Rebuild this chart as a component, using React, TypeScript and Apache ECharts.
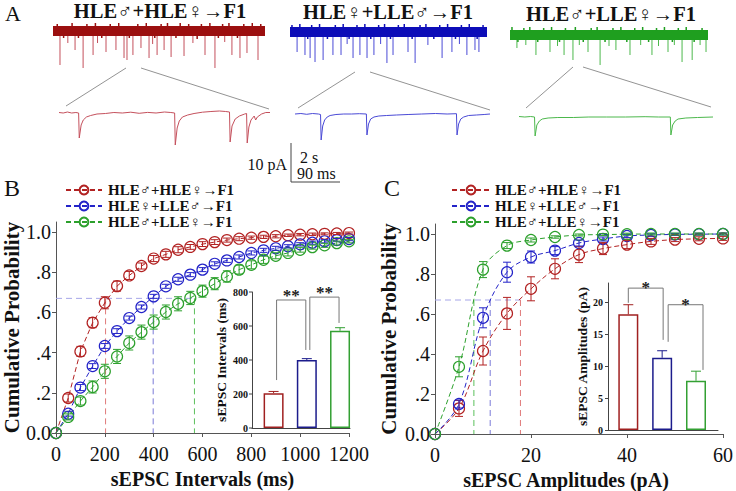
import React, { useEffect, useRef } from 'react';
import * as echarts from 'echarts';

const SERIF = 'Liberation Serif';

// ---------- data ----------
const GROUPS = ['HLE♂+HLE♀→F1', 'HLE♀+LLE♂→F1', 'HLE♂+LLE♀→F1'];
const COLORS = ['#b22222', '#2323c8', '#2ca02c'];
const BAR_BORDER = ['#a02020', '#1c1c8c', '#33a033'];
const REF_COLORS = ['#e07a7a', '#7a7ad8', '#5cc05c'];
const TRACE_BAND = ['#9b0f0f', '#0d0db8', '#1f9f1f'];
const TRACE_SPIKE = ['#c4505c', '#4a4ad6', '#4cb84c'];

const INTERVAL_X = [0, 50, 100, 150, 200, 250, 300, 350, 400, 450, 500, 550, 600, 650, 700, 750, 800, 850, 900, 950, 1000, 1050, 1100, 1150, 1200];
const INTERVAL_CP = [
  [0, 0.174, 0.406, 0.549, 0.648, 0.731, 0.784, 0.831, 0.868, 0.889, 0.912, 0.926, 0.94, 0.95, 0.96, 0.967, 0.972, 0.976, 0.979, 0.984, 0.987, 0.989, 0.991, 0.993, 0.995],
  [0, 0.096, 0.226, 0.333, 0.433, 0.507, 0.572, 0.627, 0.68, 0.73, 0.765, 0.788, 0.813, 0.842, 0.859, 0.876, 0.896, 0.909, 0.919, 0.929, 0.939, 0.947, 0.954, 0.96, 0.965],
  [0, 0.08, 0.159, 0.229, 0.307, 0.381, 0.448, 0.502, 0.552, 0.602, 0.643, 0.672, 0.706, 0.743, 0.779, 0.813, 0.837, 0.862, 0.882, 0.896, 0.912, 0.925, 0.934, 0.945, 0.954],
];
const INTERVAL_SEM = [
  [0, 0.02, 0.025, 0.025, 0.03, 0.025, 0.02, 0.015, 0.015, 0.015, 0.015, 0.012, 0.012, 0.012, 0.01, 0.01, 0.008, 0.008, 0.008, 0.006, 0.006, 0.006, 0.005, 0.005, 0.005],
  [0, 0.012, 0.015, 0.012, 0.012, 0.012, 0.01, 0.01, 0.01, 0.01, 0.01, 0.01, 0.01, 0.01, 0.01, 0.01, 0.01, 0.01, 0.01, 0.008, 0.008, 0.008, 0.008, 0.008, 0.008],
  [0, 0.015, 0.02, 0.03, 0.035, 0.035, 0.035, 0.035, 0.035, 0.035, 0.035, 0.033, 0.03, 0.03, 0.028, 0.022, 0.02, 0.018, 0.015, 0.015, 0.012, 0.01, 0.01, 0.01, 0.008],
];
const AMP_X = [0, 5, 10, 15, 20, 25, 30, 35, 40, 45, 50, 55, 60];
const AMP_CP = [
  [0, 0.128, 0.415, 0.603, 0.726, 0.826, 0.897, 0.927, 0.947, 0.963, 0.972, 0.976, 0.978],
  [0, 0.15, 0.581, 0.809, 0.885, 0.917, 0.955, 0.975, 0.99, 0.995, 0.998, 0.999, 1.0],
  [0, 0.336, 0.822, 0.942, 0.97, 0.985, 0.995, 0.997, 0.999, 1.0, 1.0, 1.0, 1.0],
];
const AMP_SEM = [
  [0, 0.04, 0.07, 0.08, 0.06, 0.05, 0.04, 0.03, 0.02, 0.015, 0.01, 0.01, 0.01],
  [0, 0.02, 0.05, 0.05, 0.03, 0.02, 0.015, 0.01, 0.008, 0.006, 0.005, 0.005, 0.005],
  [0, 0.05, 0.04, 0.015, 0.01, 0.006, 0.005, 0.005, 0.005, 0.005, 0.005, 0.005, 0.005],
];
const CP_LEVEL = 0.67;
const INTERVAL_AT_LEVEL = [203, 398, 567];
const AMP_AT_LEVEL = [17.8, 11.5, 8.1];

const INTERVAL_MEAN = [205, 400, 572];
const INTERVAL_ERR = [10, 8, 18];
const AMP_MEAN = [18.1, 11.3, 7.7];
const AMP_ERR = [1.5, 1.1, 1.5];
const INTERVAL_TICKS = [0, 200, 400, 600, 800];
const AMP_TICKS = [0, 5, 10, 15, 20];
const PROB_TICKS = [0, 0.2, 0.4, 0.6, 0.8, 1.0];

// brackets: [fromBar, toBar, yStart, yTop, yEnd]
const BRACKETS_B = [[0, 1, 282, 753, 459], [1, 2, 459, 770, 618]];
const SIG_B = ['**', '**'];
const BRACKETS_C = [[0, 1, 19.9, 22.2, 14.1], [1, 2, 13.8, 19.6, 9.4]];
const SIG_C = ['*', '*'];

// Panel A traces (time in arbitrary units 0-100, amplitude units, negative = inward)
const TOP_SPIKES = [
  [[3.3, 34], [10.4, 19], [14.2, 37], [18.9, 24], [25, 21], [29.7, 19], [33.5, 27], [34.9, 29], [37.7, 24], [41.5, 17], [45.3, 27], [49.1, 24], [52.4, 19], [55.7, 26], [61.8, 25], [71.7, 24], [76.4, 37], [84.4, 24], [88.2, 27], [91.5, 22], [96.7, 29], [7, 12], [21, 12], [47, 13], [66, 12], [81, 11]],
  [[3.6, 20], [7.6, 23], [10.2, 26], [12.7, 30], [16.8, 28], [21.8, 23], [25.9, 23], [32, 26], [35.5, 23], [39.1, 26], [42.6, 23], [49.2, 31], [52.3, 23], [59.9, 20], [63.5, 31], [77.2, 26], [82.2, 20], [89.8, 23], [93.9, 18], [95.9, 20], [29, 12], [46, 12], [70, 13], [86, 12]],
  [[3.5, 13], [13.1, 20], [20.2, 17], [27.3, 20], [31.8, 25], [39.4, 17], [45.5, 30], [53.5, 15], [60.6, 20], [71.7, 20], [79.8, 17], [86.9, 27], [92, 25], [99, 17], [8, 10], [24, 11], [35, 10], [50, 11], [66, 10], [75, 11], [83, 10], [96, 10]],
];
// small noise excursions on the edges of the top traces (position, amplitude; positive = up)
const TOP_NOISE = [
  [[2, 3], [5, -3], [9, 4], [12, -3], [16, 3], [20, 4], [23, -3], [27, 3], [31, 4], [36, -3], [40, 3], [44, 4], [48, -3], [51, 3], [54, 4], [58, -3], [60, 4], [64, 3], [68, -4], [70, 3], [74, 4], [78, -3], [80, 3], [83, 4], [87, -3], [90, 3], [94, 4], [98, 3]],
  [[1, 3], [5, 4], [9, -3], [11, 3], [15, 4], [19, -3], [23, 3], [27, 4], [30, -3], [34, 3], [38, 4], [41, -3], [45, 3], [48, 4], [51, -3], [55, 3], [58, 4], [62, -3], [66, 3], [69, 4], [73, -3], [76, 3], [80, 4], [84, -3], [87, 3], [91, 4], [95, -3], [98, 3]],
  [[1, 4], [4, -3], [7, 3], [10, 4], [14, -3], [17, 3], [21, 4], [25, -3], [28, 3], [33, 4], [37, -3], [41, 3], [44, 4], [48, -3], [52, 3], [56, 4], [59, -3], [63, 3], [67, 4], [70, -3], [74, 3], [78, 4], [82, -3], [85, 3], [89, 4], [93, -3], [97, 3]],
];
const BOTTOM_TRACES = [
  [[0, 0.5], [2, 0], [4, 1], [6, 0], [8, 0.5], [9.3, 0], [9.6, -25], [10.5, -12], [11.5, -7], [13, -4], [15, -2.5], [18, -1], [22, -0.5], [26, 0.5], [30, 0], [34, 0.8], [38, -0.3], [42, 0.6], [46, 0], [50, 1], [53, 0.5], [54.8, 0], [55.1, -32], [56, -15], [57, -8], [58.5, -4], [61, -2], [64, -0.5], [68, 0.8], [72, 1.5], [76, 2], [79, 1.5], [80.8, 1], [81.1, -29], [82, -13], [83.5, -6], [85.5, -3], [88, -1], [88.9, -0.5], [89.2, -30], [90, -14], [91, -7], [92.5, -3], [93.2, -7], [94, -4], [96, -1], [98, 0.5], [100, 0.5]],
  [[0, 0], [3, 0.5], [6, -0.3], [9, 0.5], [12, 0], [13.1, -0.5], [13.4, -26], [14.2, -12], [15.2, -6], [16.5, -3], [18, -1.5], [21, -0.5], [25, 0], [29, 0], [33, 0.3], [36.6, 0], [36.9, -21], [37.7, -10], [38.8, -5], [40.5, -3], [43, -2], [47, -1.5], [52, -1], [58, -0.5], [65, 0], [72, 0.5], [78, 0], [82.8, 0.3], [83.1, -21], [83.9, -10], [85, -5], [86.5, -3], [89, -1.5], [93, -1], [97, -0.5], [100, 0]],
  [[0, 0.5], [3, 0], [6, 0.5], [8, 0], [8.3, -19], [9.2, -8], [10.5, -4], [12, -2], [15, -1], [20, -0.5], [28, -0.5], [36, 0], [45, 0], [55, 0], [65, 0.3], [72, 0], [78, 0], [78.3, -18], [79.2, -8], [80.5, -4], [82, -2], [86, -1], [92, -0.5], [100, 0]],
];

// ---------- layout ----------
const TOP_GRIDS = [
  { left: 53, top: 21, width: 212, height: 50 },
  { left: 290, top: 22, width: 197, height: 50 },
  { left: 510, top: 25, width: 198, height: 50 },
];
const BOTTOM_GRIDS = [
  { left: 59, top: 108, width: 211, height: 40 },
  { left: 295, top: 109, width: 195, height: 40 },
  { left: 519, top: 112, width: 194, height: 40 },
];
const B_INSET = { left: 252, top: 292, width: 98, height: 136 };
const B_INSET_YMAX = 800;

function probLabel(v: number) {
  if (v === 0) return '0.0';
  if (Math.abs(v - 1) < 1e-9) return '1.0';
  return '.' + Math.round(v * 10);
}

function errSeries(xi: number, yi: number, data: number[][], color: string, cap: number, upOnly: boolean) {
  return {
    type: 'custom', xAxisIndex: xi, yAxisIndex: yi, silent: true, z: 4, clip: false,
    data,
    renderItem: (params: any, api: any) => {
      const x = api.value(0), y = api.value(1), e = api.value(2);
      if (!e) return null;
      const top = api.coord([x, y + e]);
      const bot = upOnly ? api.coord([x, y]) : api.coord([x, y - e]);
      const style = { stroke: color, lineWidth: 1 };
      const ch: any[] = [
        { type: 'line', shape: { x1: top[0], y1: top[1], x2: bot[0], y2: bot[1] }, style },
        { type: 'line', shape: { x1: top[0] - cap / 2, y1: top[1], x2: top[0] + cap / 2, y2: top[1] }, style },
      ];
      if (!upOnly) ch.push({ type: 'line', shape: { x1: bot[0] - cap / 2, y1: bot[1], x2: bot[0] + cap / 2, y2: bot[1] }, style });
      return { type: 'group', children: ch };
    },
  };
}

function bracketSeries(xi: number, yi: number, rows: number[][], labels: string[], dx: number[][], fontSize: number, lift: number) {
  return {
    type: 'custom', xAxisIndex: xi, yAxisIndex: yi, silent: true, z: 5, clip: false,
    data: rows,
    renderItem: (params: any, api: any) => {
      const [a, b] = dx[params.dataIndex];
      const p1 = api.coord([api.value(0), api.value(2)]);
      const p2 = api.coord([api.value(0), api.value(3)]);
      const p3 = api.coord([api.value(1), api.value(3)]);
      const p4 = api.coord([api.value(1), api.value(4)]);
      return {
        type: 'group',
        children: [
          { type: 'polyline', shape: { points: [[p1[0] + a, p1[1]], [p2[0] + a, p2[1]], [p3[0] + b, p3[1]], [p4[0] + b, p4[1]]] }, style: { stroke: '#777', fill: 'none', lineWidth: 1 } },
          { type: 'text', x: (p2[0] + a + p3[0] + b) / 2, y: p2[1] + lift, style: { text: labels[params.dataIndex], textAlign: 'center', textVerticalAlign: 'bottom', fontFamily: SERIF, fontWeight: 'bold', fontSize, fill: '#222' } },
        ],
      };
    },
  };
}

const txt = (text: string, x: number, y: number, size: number, bold: boolean, align = 'left', vAlign = 'top') => ({
  type: 'text', x, y, z: 100, style: { text, fontFamily: SERIF, fontWeight: bold ? 'bold' : 'normal', fontSize: size, fill: '#111', textAlign: align, textVerticalAlign: vAlign },
});
const ln = (x1: number, y1: number, x2: number, y2: number, color = '#777', w = 0.8) => ({
  type: 'line', z: 100, shape: { x1, y1, x2, y2 }, style: { stroke: color, lineWidth: w },
});

function buildGraphic(): any[] {
  const g: any[] = [
    txt('A', 5, 2, 22, false),
    txt('B', 4, 176, 24, false),
    txt('C', 384, 176, 24, false),
    txt(GROUPS[0], 160, 11, 20.5, true, 'center', 'middle'),
    txt(GROUPS[1], 388, 12, 20.5, true, 'center', 'middle'),
    txt(GROUPS[2], 611, 14, 20.5, true, 'center', 'middle'),
    ln(126, 68, 66, 106), ln(141, 68, 269, 109),
    ln(355, 72, 298, 108), ln(370, 72, 490, 110),
    ln(573, 67, 526, 108), ln(583, 67, 711, 107),
    ln(291, 143, 291, 182, '#444', 1), ln(291, 182, 340, 182, '#444', 1),
    txt('10 pA', 287, 164, 16, false, 'right', 'middle'),
    txt('2 s', 309, 157, 16, false, 'center', 'middle'),
    txt('90 ms', 297, 173, 16, false, 'left', 'middle'),
  ];
  // B inset y tick labels (linear scale of the inset grid: 0 at bottom, max at top)
  INTERVAL_TICKS.forEach((t) => {
    const y = B_INSET.top + B_INSET.height * (1 - t / B_INSET_YMAX);
    g.push(ln(B_INSET.left - 3, y, B_INSET.left, y, '#444', 1));
    g.push(txt(String(t), B_INSET.left - 4, y, 10, true, 'right', 'middle'));
  });
  return g;
}

function buildOption() {
  const grid: any[] = [
    { left: 56, top: 222, width: 293, height: 211 },   // 0 B main
    { ...B_INSET },                                    // 1 B inset
    { left: 435, top: 224, width: 292, height: 211 },  // 2 C main
    { left: 608, top: 283, width: 110, height: 147 },  // 3 C inset
    ...TOP_GRIDS,                                      // 4,5,6
    ...BOTTOM_GRIDS,                                   // 7,8,9
  ];
  const axisLineMain = { show: true, onZero: false, lineStyle: { color: '#555', width: 1 } };
  const insetLine = { show: true, onZero: false, lineStyle: { color: '#444', width: 1 } };
  const mainLabel = { fontFamily: SERIF, fontSize: 20, color: '#111' };
  const nameStyle = { fontFamily: SERIF, fontWeight: 'bold', fontSize: 21, color: '#111' };
  const insetLabel = { fontFamily: SERIF, fontSize: 10, fontWeight: 'bold', color: '#111', margin: 4 };
  const insetName = { fontFamily: SERIF, fontWeight: 'bold', fontSize: 13.5, color: '#111' };
  const hidden = { show: false };

  const xAxis: any[] = [
    { type: 'value', gridIndex: 0, min: 0, max: 1200, interval: 200, axisLine: axisLineMain, axisTick: { show: true, length: 4, lineStyle: { color: '#555' } }, axisLabel: { ...mainLabel, margin: 11, formatter: (v: number) => String(v) }, splitLine: hidden,
      name: 'sEPSC Intervals (ms)', nameLocation: 'middle', nameGap: 36, nameTextStyle: { ...nameStyle, fontSize: 20 } },
    { type: 'value', gridIndex: 1, min: -0.65, max: 2.3, axisLine: insetLine, axisTick: hidden, axisLabel: hidden, splitLine: hidden },
    { type: 'value', gridIndex: 2, min: 0, max: 60, interval: 20, axisLine: axisLineMain, axisTick: { show: true, length: 4, lineStyle: { color: '#555' } }, axisLabel: { ...mainLabel, margin: 11, formatter: (v: number) => String(v) }, splitLine: hidden,
      name: 'sEPSC Amplitudes (pA)', nameLocation: 'middle', nameGap: 36, nameTextStyle: { ...nameStyle, fontSize: 20, padding: [0, 26, 0, 0] } },
    { type: 'value', gridIndex: 3, min: -0.6, max: 2.65, axisLine: insetLine, axisTick: hidden, axisLabel: hidden, splitLine: hidden },
  ];
  const yAxis: any[] = [
    { type: 'value', gridIndex: 0, min: 0, max: 1.05, interval: 0.2, axisLine: axisLineMain,
      axisTick: { show: true, length: 4, lineStyle: { color: '#555' }, customValues: PROB_TICKS },
      axisLabel: { ...mainLabel, margin: 5, formatter: probLabel, customValues: PROB_TICKS }, splitLine: hidden,
      name: 'Cumulative Probability', nameLocation: 'middle', nameGap: 30, nameTextStyle: nameStyle },
    { type: 'value', gridIndex: 1, min: 0, max: B_INSET_YMAX, interval: 200, axisLine: insetLine,
      axisTick: hidden, axisLabel: hidden, splitLine: hidden,
      name: 'sEPSC Intervals (ms)', nameLocation: 'middle', nameGap: 24, nameTextStyle: insetName },
    { type: 'value', gridIndex: 2, min: 0, max: 1.05, interval: 0.2, axisLine: axisLineMain,
      axisTick: { show: true, length: 4, lineStyle: { color: '#555' }, customValues: PROB_TICKS },
      axisLabel: { ...mainLabel, margin: 5, formatter: probLabel, customValues: PROB_TICKS }, splitLine: hidden,
      name: 'Cumulative Probability', nameLocation: 'middle', nameGap: 36, nameTextStyle: nameStyle },
    { type: 'value', gridIndex: 3, min: 0, max: 23, interval: 5, axisLine: insetLine,
      axisTick: { show: true, length: 3, customValues: AMP_TICKS },
      axisLabel: { ...insetLabel, margin: 5, customValues: AMP_TICKS }, splitLine: hidden,
      name: 'sEPSC Amplitudes (pA)', nameLocation: 'middle', nameGap: 19, nameTextStyle: insetName },
  ];
  for (let k = 0; k < 3; k++) {
    xAxis.push({ type: 'value', gridIndex: 4 + k, min: 0, max: 100, show: false });
    yAxis.push({ type: 'value', gridIndex: 4 + k, min: -40, max: 10, show: false });
  }
  for (let k = 0; k < 3; k++) {
    xAxis.push({ type: 'value', gridIndex: 7 + k, min: 0, max: 100, show: false });
    yAxis.push({ type: 'value', gridIndex: 7 + k, min: -35, max: 5, show: false });
  }

  const series: any[] = [];
  const dash = [5, 3];
  GROUPS.forEach((g, i) => {
    series.push({
      name: g, type: 'line', xAxisIndex: 0, yAxisIndex: 0, z: 3,
      data: INTERVAL_X.map((x, j) => [x, INTERVAL_CP[i][j]]),
      symbol: 'circle', symbolSize: 11,
      itemStyle: { color: 'rgba(255,255,255,0)', borderColor: COLORS[i], borderWidth: 1.2 },
      lineStyle: { color: COLORS[i], width: 1, type: dash },
    });
    series.push(errSeries(0, 0, INTERVAL_X.map((x, j) => [x, INTERVAL_CP[i][j], INTERVAL_SEM[i][j]]), COLORS[i], 8, false));
  });
  GROUPS.forEach((g, i) => {
    series.push({
      name: g, type: 'line', xAxisIndex: 2, yAxisIndex: 2, z: 3, smooth: 0.35,
      data: AMP_X.map((x, j) => [x, AMP_CP[i][j]]),
      symbol: 'circle', symbolSize: 11,
      itemStyle: { color: 'rgba(255,255,255,0)', borderColor: COLORS[i], borderWidth: 1.2 },
      lineStyle: { color: COLORS[i], width: 1, type: dash },
    });
    series.push(errSeries(2, 2, AMP_X.map((x, j) => [x, AMP_CP[i][j], AMP_SEM[i][j]]), COLORS[i], 8, false));
  });
  const refLine = (xi: number, pts: number[][], color: string) => ({
    type: 'line', xAxisIndex: xi, yAxisIndex: xi, data: pts, symbol: 'none', silent: true, z: 1,
    lineStyle: { color, width: 1, type: [6, 4] },
  });
  series.push(refLine(0, [[0, CP_LEVEL], [Math.max(...INTERVAL_AT_LEVEL), CP_LEVEL]], '#a6a6e8'));
  INTERVAL_AT_LEVEL.forEach((v, i) => series.push(refLine(0, [[v, CP_LEVEL], [v, 0]], REF_COLORS[i])));
  series.push(refLine(2, [[0, CP_LEVEL], [Math.max(...AMP_AT_LEVEL), CP_LEVEL]], '#a6a6e8'));
  AMP_AT_LEVEL.forEach((v, i) => series.push(refLine(2, [[v, CP_LEVEL], [v, 0]], REF_COLORS[i])));

  // insets
  const barData = (vals: number[]) => vals.map((v, i) => ({ value: [i, v], itemStyle: { color: 'rgba(255,255,255,0)', borderColor: BAR_BORDER[i], borderWidth: 1.5 } }));
  series.push({ type: 'bar', xAxisIndex: 1, yAxisIndex: 1, barWidth: 20, data: barData(INTERVAL_MEAN), silent: true, z: 3 });
  series.push({ type: 'bar', xAxisIndex: 3, yAxisIndex: 3, barWidth: 20, data: barData(AMP_MEAN), silent: true, z: 3 });
  INTERVAL_MEAN.forEach((v, i) => series.push(errSeries(1, 1, [[i, v, INTERVAL_ERR[i]]], BAR_BORDER[i], 10, true)));
  AMP_MEAN.forEach((v, i) => series.push(errSeries(3, 3, [[i, v, AMP_ERR[i]]], BAR_BORDER[i], 10, true)));
  series.push(bracketSeries(1, 1, BRACKETS_B, SIG_B, [[3, -1], [3, -1]], 17, 4));
  series.push(bracketSeries(3, 3, BRACKETS_C, SIG_C, [[0, 1], [6, 7]], 17, 8));

  // Panel A traces
  for (let k = 0; k < 3; k++) {
    const ax = 4 + k;
    series.push({
      type: 'custom', xAxisIndex: ax, yAxisIndex: ax, silent: true, z: 2, clip: false, data: [[0, 100]],
      renderItem: (_p: any, api: any) => {
        const a = api.coord([api.value(0), 5]);
        const b = api.coord([api.value(1), -5]);
        return { type: 'rect', shape: { x: a[0], y: a[1], width: b[0] - a[0], height: b[1] - a[1] }, style: { fill: TRACE_BAND[k] } };
      },
    });
    series.push({
      type: 'custom', xAxisIndex: ax, yAxisIndex: ax, silent: true, z: 2, clip: false, data: TOP_NOISE[k],
      renderItem: (_p: any, api: any) => {
        const v = api.value(1);
        const a = api.coord([api.value(0), v > 0 ? 4 : -4]);
        const b = api.coord([api.value(0), v > 0 ? 4 + v : -4 + v]);
        return { type: 'line', shape: { x1: a[0], y1: a[1], x2: b[0], y2: b[1] }, style: { stroke: TRACE_BAND[k], lineWidth: 1.5 } };
      },
    });
    series.push({
      type: 'custom', xAxisIndex: ax, yAxisIndex: ax, silent: true, z: 1, clip: false, data: TOP_SPIKES[k],
      renderItem: (_p: any, api: any) => {
        const a = api.coord([api.value(0), 0]);
        const b = api.coord([api.value(0), -api.value(1)]);
        return { type: 'line', shape: { x1: a[0], y1: a[1], x2: b[0], y2: b[1] }, style: { stroke: TRACE_SPIKE[k], lineWidth: 1 } };
      },
    });
    series.push({
      type: 'line', xAxisIndex: 7 + k, yAxisIndex: 7 + k, data: BOTTOM_TRACES[k], symbol: 'none', silent: true,
      lineStyle: { color: TRACE_SPIKE[k], width: 1 },
    });
  }

  const legendBase = {
    data: GROUPS, orient: 'vertical', itemWidth: 36, itemHeight: 11, itemGap: 0,
    textStyle: { fontFamily: SERIF, fontWeight: 'bold', fontSize: 15, color: '#111', lineHeight: 16 },
    selectedMode: false,
  };

  return {
    animation: false,
    backgroundColor: '#fff',
    textStyle: { fontFamily: SERIF },
    grid, xAxis, yAxis, series, graphic: buildGraphic(),
    legend: [
      { ...legendBase, left: 60, top: 177, textStyle: { ...legendBase.textStyle, padding: [0, 0, 0, 1] } },
      { ...legendBase, left: 446, top: 177, itemWidth: 38 },
    ],
  };
}

export default function App() {
  const ref = useRef<HTMLDivElement>(null);
  useEffect(() => {
    const chart = echarts.init(ref.current!, null, { renderer: 'svg' });
    chart.setOption(buildOption() as any);
    return () => chart.dispose();
  }, []);
  return <div ref={ref} style={{ position: 'absolute', left: 0, top: 0, width: 736, height: 491, background: '#fff' }} />;
}
